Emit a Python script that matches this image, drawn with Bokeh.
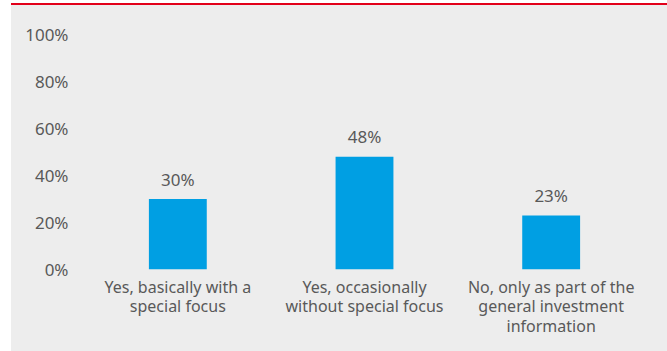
from bokeh.plotting import figure
from bokeh.models import Range1d, FactorRange, PrintfTickFormatter, FixedTicker, ColumnDataSource, Div, Spacer
from bokeh.layouts import row, column
from bokeh.core.properties import value
from bokeh.embed import file_html
from bokeh.resources import INLINE

categories = [
    "Yes, basically with a\nspecial focus",
    "Yes, occasionally\nwithout special focus",
    "No, only as part of the\ngeneral investment\ninformation",
]
values = [30, 48, 23]
value_labels = ["30%", "48%", "23%"]
y_ticks = [0, 20, 40, 60, 80, 100]

BG = "#ededed"
BLUE = "#009fe3"
RED = "#e2001a"
TXT = "#595959"
FONT = "Noto Sans"

src = ColumnDataSource(dict(cat=categories, val=values, lab=value_labels))

p = figure(
    width=656, height=346,
    x_range=FactorRange(*categories, range_padding=0),
    y_range=Range1d(0, 100),
    output_backend="svg", toolbar_location=None,
    min_border_left=73, min_border_right=23, min_border_top=29, min_border_bottom=82,
    margin=0,
)
p.styles = {"background-color": BG}
p.background_fill_color = None
p.border_fill_color = None
p.outline_line_color = None
p.grid.visible = False

p.vbar(x="cat", top="val", width=0.31, source=src, fill_color=BLUE, line_color=None)
p.text(x="cat", y="val", text="lab", source=src, text_align="center",
       text_baseline="alphabetic", y_offset=-20, text_font=value(FONT),
       text_font_size="17px", text_color=TXT)

ya = p.yaxis[0]
ya.ticker = FixedTicker(ticks=y_ticks)
ya.formatter = PrintfTickFormatter(format="%d%%")
ya.axis_line_color = None
ya.major_tick_line_color = None
ya.minor_tick_line_color = None
ya.major_tick_in = 0
ya.major_tick_out = 0
ya.minor_tick_out = 0
ya.major_label_standoff = 16
ya.major_label_text_font = FONT
ya.major_label_text_font_size = "17px"
ya.major_label_text_color = TXT

xa = p.xaxis[0]
xa.axis_line_color = None
xa.major_tick_line_color = None
xa.major_tick_in = 0
xa.major_tick_out = 0
xa.major_label_standoff = 6
xa.major_label_text_font = FONT
xa.major_label_text_font_size = "16px"
xa.major_label_text_color = TXT
xa.major_label_text_line_height = 0.9

red = Div(width=656, height=2, margin=0,
          styles={"background-color": RED, "padding": "0", "overflow": "hidden"})
layout = row(Spacer(width=11, height=351, margin=0),
             column(Spacer(width=656, height=3, margin=0), red, p, margin=0),
             margin=0)

open("out.html", "w").write(file_html(layout, INLINE))
